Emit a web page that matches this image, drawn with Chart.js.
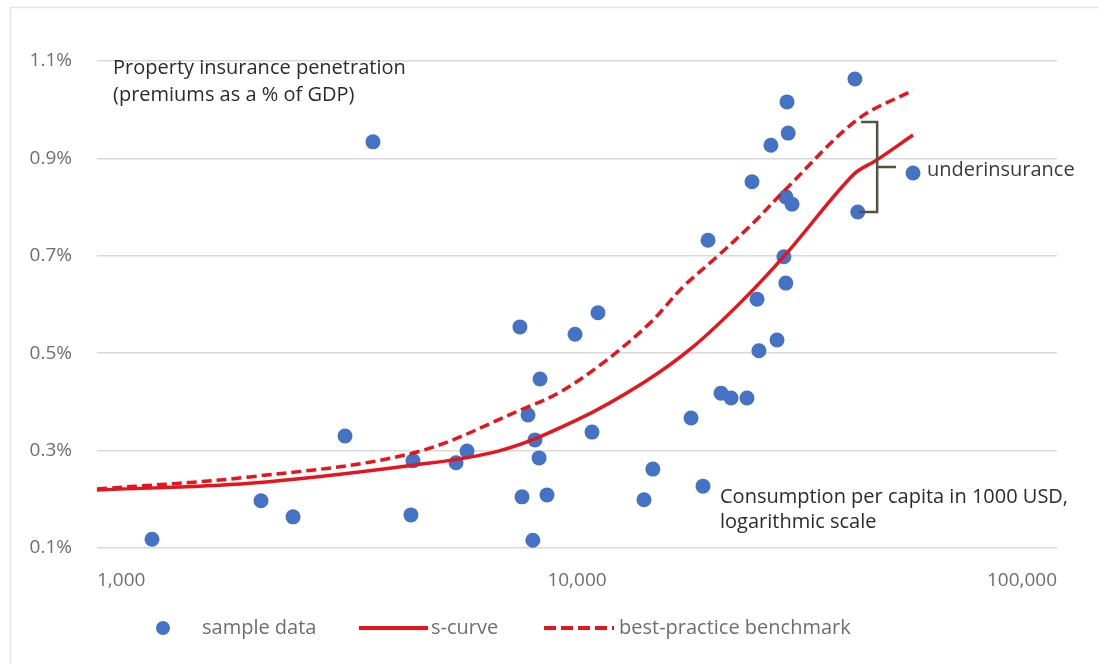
<!DOCTYPE html>
<html>
<head>
<meta charset="utf-8">
<script src="https://cdn.jsdelivr.net/npm/chart.js@4/dist/chart.umd.min.js"></script>
<style>
  html, body { margin: 0; padding: 0; background: #ffffff; }
  #wrap { position: relative; width: 1099px; height: 664px; }
  canvas { display: block; }
</style>
</head>
<body>
<div id="wrap"><canvas id="c" width="1099" height="664"></canvas></div>
<script>
// ---- data (x: consumption per capita, USD; y: premiums as % of GDP) ----
const sampleX = [1302, 2196, 2561, 3286, 3758, 4508, 4553, 5597, 5901, 7605, 7682, 7907, 8091, 8176, 8336, 8375, 8659,
                 9906, 10745, 11059, 13790, 14390, 17283, 18302, 18748, 19953, 20941, 22600, 23150, 23714, 23933,
                 25351, 26104, 26980, 27230, 27384, 27540, 27230, 28054, 37931, 38458, 50119];
const sampleY = [0.118, 0.197, 0.164, 0.330, 0.934, 0.168, 0.279, 0.275, 0.299, 0.554, 0.205, 0.373, 0.116, 0.322, 0.285, 0.447, 0.209,
                 0.539, 0.338, 0.583, 0.199, 0.262, 0.367, 0.227, 0.732, 0.418, 0.408, 0.408, 0.852, 0.611, 0.505,
                 0.927, 0.527, 0.698, 0.644, 1.016, 0.952, 0.821, 0.806, 1.063, 0.790, 0.870];

const curveX = [1000, 2084, 4553, 6913, 10000, 13725, 17445, 22171, 27384, 37584, 42170, 50119];
const curveY = [0.219, 0.233, 0.270, 0.300, 0.363, 0.439, 0.513, 0.609, 0.706, 0.866, 0.897, 0.948];

const benchX = [1000, 2084, 4553, 7906, 9218, 11331, 14194, 16628, 19572, 23263, 27127, 38312, 50119];
const benchY = [0.221, 0.246, 0.295, 0.390, 0.420, 0.480, 0.562, 0.636, 0.698, 0.767, 0.835, 0.979, 1.040];

const xTicks = [1000, 10000, 100000];
const yTicks = [0.1, 0.3, 0.5, 0.7, 0.9, 1.1];

const seriesNames = ['sample data', 's-curve', 'best-practice benchmark'];

// annotation anchors (data values)
const bracketX = 42200, bracketTop = 0.975, bracketBottom = 0.79, bracketTipX = 46200;

const BLUE = '#4472c4', RED = '#e8141c', GRID = '#d9d9d9', TICK = '#6e6e6e', TEXT = '#2b2b2b';
const FONT = '"Open Sans", sans-serif';

const toPts = (xs, ys) => xs.map((x, i) => ({ x: x, y: ys[i] }));

const extras = {
  id: 'extras',
  afterDraw(chart) {
    const ctx = chart.ctx, xs = chart.scales.x, ys = chart.scales.y;
    ctx.save();
    // outer frame
    ctx.strokeStyle = '#e6e6e6'; ctx.lineWidth = 1.5;
    ctx.beginPath(); ctx.moveTo(10.5, 664); ctx.lineTo(10.5, 7.5); ctx.lineTo(1099, 7.5); ctx.stroke();

    // annotation texts
    ctx.fillStyle = TEXT; ctx.textBaseline = 'middle'; ctx.textAlign = 'left';
    ctx.font = '20px ' + FONT;
    ctx.fillText('Property insurance penetration', 113, 68);
    ctx.fillText('(premiums as a % of GDP)', 113, 95);
    ctx.fillText('Consumption per capita in 1000 USD,', 720, 497);
    ctx.fillText('logarithmic scale', 720, 522);
    ctx.fillStyle = '#3a3a3a';
    ctx.fillText('underinsurance', 927, 170);

    // bracket
    const bx = xs.getPixelForValue(bracketX);
    const bt = ys.getPixelForValue(bracketTop), bb = ys.getPixelForValue(bracketBottom);
    const tip = xs.getPixelForValue(bracketTipX);
    const mid = (bt + bb) / 2;
    ctx.strokeStyle = '#4d5440'; ctx.lineWidth = 2.5; ctx.lineJoin = 'miter';
    ctx.beginPath();
    ctx.moveTo(bx - 16, bt); ctx.lineTo(bx, bt); ctx.lineTo(bx, bb); ctx.lineTo(bx - 18, bb);
    ctx.moveTo(bx, mid); ctx.lineTo(tip, mid);
    ctx.stroke();

    // legend
    const ly = 628;
    ctx.font = '20px ' + FONT;
    ctx.beginPath(); ctx.fillStyle = BLUE; ctx.arc(163, ly, 7, 0, Math.PI * 2); ctx.fill();
    ctx.fillStyle = '#6e6e6e';
    ctx.fillText(seriesNames[0], 202, ly);
    ctx.strokeStyle = RED; ctx.lineWidth = 4;
    ctx.beginPath(); ctx.moveTo(359, ly); ctx.lineTo(428, ly); ctx.stroke();
    ctx.fillText(seriesNames[1], 431, ly);
    ctx.setLineDash([12, 5]);
    ctx.beginPath(); ctx.moveTo(544, ly); ctx.lineTo(614, ly); ctx.stroke();
    ctx.setLineDash([]);
    ctx.fillText(seriesNames[2], 619, ly);
    ctx.restore();
  }
};

new Chart(document.getElementById('c'), {
  type: 'scatter',
  data: {
    datasets: [
      { label: seriesNames[0], data: toPts(sampleX, sampleY), backgroundColor: BLUE, borderColor: BLUE,
        pointRadius: 7.5, pointBorderWidth: 0, showLine: false, order: 3 },
      { label: seriesNames[1], data: toPts(curveX, curveY), type: 'line', borderColor: RED, backgroundColor: RED,
        borderWidth: 3.5, pointRadius: 0, tension: 0.35, fill: false, order: 1 },
      { label: seriesNames[2], data: toPts(benchX, benchY), type: 'line', borderColor: RED, backgroundColor: RED,
        borderWidth: 3.5, borderDash: [10, 5], pointRadius: 0, tension: 0.35, fill: false, order: 2 }
    ]
  },
  options: {
    responsive: false,
    animation: false,
    devicePixelRatio: 1,
    layout: { padding: { left: 0, right: 42, top: 61, bottom: 0 } },
    plugins: { legend: { display: false }, tooltip: { enabled: false } },
    scales: {
      x: {
        type: 'logarithmic', min: 1000, max: 100000,
        afterBuildTicks(s) { s.ticks = xTicks.map(v => ({ value: v })); },
        afterFit(s) { s.height = 116; },
        grid: { display: false, drawTicks: false },
        border: { display: false },
        ticks: { align: 'inner', padding: 21, color: TICK, maxRotation: 0, autoSkip: false,
                 font: { family: FONT, size: 19 },
                 callback: v => Number(v).toLocaleString('en-US') }
      },
      y: {
        type: 'linear', min: 0.1, max: 1.1,
        afterBuildTicks(s) { s.ticks = yTicks.map(v => ({ value: v })); },
        afterFit(s) { s.width = 97; },
        grid: { color: GRID, lineWidth: 1.5, drawTicks: false },
        border: { display: false },
        ticks: { padding: 25, color: TICK, font: { family: FONT, size: 19 },
                 callback: v => Number(v).toFixed(1) + '%' }
      }
    }
  },
  plugins: [extras]
});
</script>
</body>
</html>
